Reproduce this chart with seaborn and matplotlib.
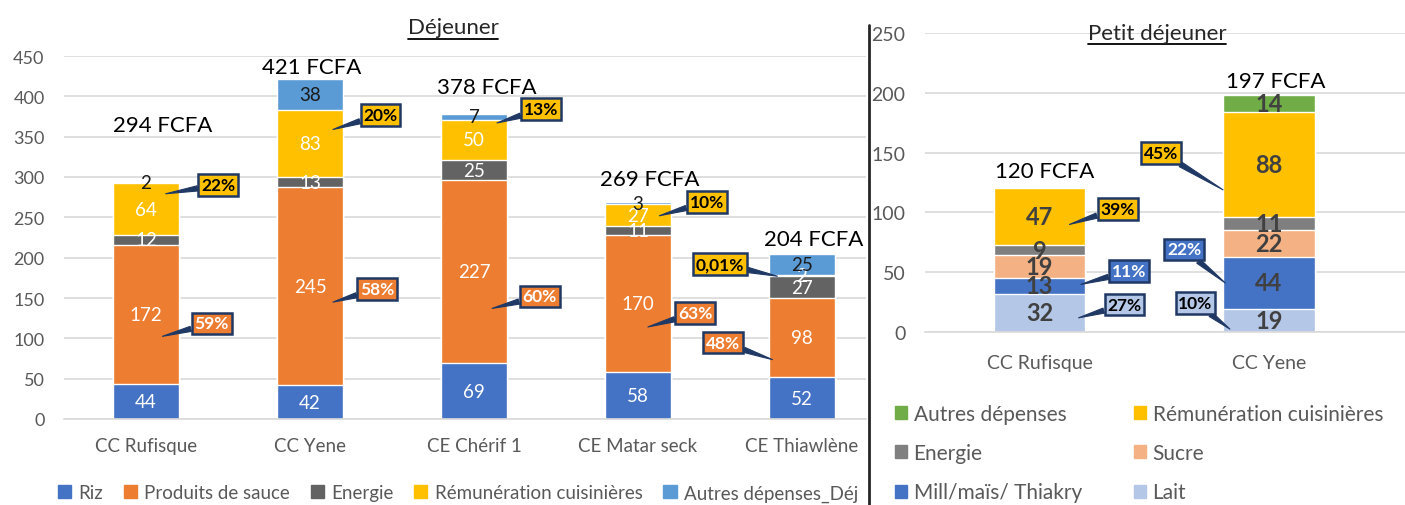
import matplotlib
matplotlib.use("Agg")
import matplotlib.pyplot as plt
import seaborn as sns
import numpy as np
import pandas as pd
from matplotlib.lines import Line2D
from matplotlib.patches import Patch

# Déjeuner
dej_sites = ["CC Rufisque", "CC Yene", "CE Chérif 1", "CE Matar seck", "CE Thiawlène"]
dej_series = ["Riz", "Produits de sauce", "Energie", "Rémunération cuisinières", "Autres dépenses_Déj"]
riz = [44, 42, 69, 58, 52]
sauce = [172, 245, 227, 170, 98]
energie_dej = [12, 13, 25, 11, 27]
remun_dej = [64, 83, 50, 27, 2]
autres_dej = [2, 38, 7, 3, 25]
dej_totaux = ["294 FCFA", "421 FCFA", "378 FCFA", "269 FCFA", "204 FCFA"]
pct_remun_dej = ["22%", "20%", "13%", "10%", "0,01%"]
pct_sauce_dej = ["59%", "58%", "60%", "63%", "48%"]

# Petit déjeuner
pdej_sites = ["CC Rufisque", "CC Yene"]
pdej_series = ["Lait", "Mill/maïs/ Thiakry", "Sucre", "Energie", "Rémunération cuisinières", "Autres dépenses"]
lait = [32, 19]
mil = [13, 44]
sucre = [19, 22]
energie_pdej = [9, 11]
remun_pdej = [47, 88]
autres_pdej = [0, 14]
pdej_totaux = ["120 FCFA", "197 FCFA"]
pct_remun_pdej = ["39%", "45%"]
pct_mil_pdej = ["11%", "22%"]
pct_lait_pdej = ["27%", "10%"]

BLEU, ORANGE, JAUNE = "#4472C4", "#ED7D31", "#FFC000"
dej_couleurs = [BLEU, ORANGE, "#636363", JAUNE, "#5B9BD5"]
pdej_couleurs = ["#B4C7E7", BLEU, "#F4B183", "#7F7F7F", JAUNE, "#70AD47"]
NAVY = "#1F3864"
GRIS = "#595959"

sns.set_style("white")
plt.rcParams["font.family"] = ["Lato", "DejaVu Sans"]

W, H = 1405, 506
fig = plt.figure(figsize=(W / 100, H / 100), dpi=100)


def px_axes(x0, x1, ytop, ybot):
    return fig.add_axes([x0 / W, (H - ybot) / H, (x1 - x0) / W, (ybot - ytop) / H])


def empiler(ax, sites, series, valeurs, couleurs):
    df = pd.DataFrame(np.array(valeurs).T, columns=series)
    df.insert(0, "site", sites)
    cum = df[series].cumsum(axis=1)
    for s, c in reversed(list(zip(series, couleurs))):
        sns.barplot(x=df["site"], y=cum[s], color=c, width=0.4, saturation=1,
                    order=sites, ax=ax, zorder=2)
    return df[series].to_numpy(float), (cum - df[series]).to_numpy(float)


def habiller(ax, ymax, pas, xlim, fs_y, fs_x, pad_x):
    ax.set_ylim(0, ymax)
    ax.set_yticks(np.arange(0, ymax + 1, pas))
    ax.set_xlim(*xlim)
    ax.set_xlabel("")
    ax.set_ylabel("")
    ax.yaxis.grid(True, color="#D9D9D9", lw=1.2, zorder=0)
    ax.set_axisbelow(True)
    sns.despine(ax=ax, left=True, top=True, right=True)
    ax.spines["bottom"].set_color("#D9D9D9")
    ax.spines["bottom"].set_linewidth(1.2)
    ax.tick_params(axis="y", length=0, pad=14, labelsize=fs_y, labelcolor=GRIS)
    ax.tick_params(axis="x", length=0, pad=pad_x, labelsize=fs_x, labelcolor=GRIS)


def bulle(ax, texte, xy, dxy, fc, tc):
    ax.annotate(texte, xy=xy, xytext=(xy[0] + dxy[0], xy[1] + dxy[1]),
                ha="center", va="center", fontsize=12.5, fontweight="bold", color=tc,
                bbox=dict(boxstyle="square,pad=0.16", fc=fc, ec=NAVY, lw=1.8),
                arrowprops=dict(arrowstyle="wedge,tail_width=0.3,shrink_factor=0.5",
                                fc=NAVY, ec=NAVY, lw=0.8, shrinkA=0, shrinkB=0),
                zorder=6)


# ---------- Déjeuner ----------
ax1 = px_axes(64, 866, 57, 420)
v1, b1 = empiler(ax1, dej_sites, dej_series, [riz, sauce, energie_dej, remun_dej, autres_dej], dej_couleurs)
habiller(ax1, 450, 50, (-0.5, 4.39), 13, 13.5, 13)

for i in range(len(dej_sites)):
    for j in range(len(dej_series)):
        col = "#1A1A1A" if j == 4 else "white"
        ax1.text(i, b1[i, j] + v1[i, j] / 2, f"{v1[i, j]:.0f}", ha="center", va="center",
                 fontsize=13.5, color=col, zorder=5)

dej_decal_total = [(0.10, 71), (0.01, 15), (0.08, 33), (0.07, 28), (0.07, 19)]
for i, t in enumerate(dej_totaux):
    dx, dy = dej_decal_total[i]
    ax1.text(i + dx, v1[i].sum() + dy, t, ha="center", va="center", fontsize=16, color="black")

# (point: dx, fraction du segment) ; (décalage de la bulle)
remun_pos = [((0.12, 0.80), (0.32, 11)), ((0.14, 0.71), (0.29, 18)), ((0.14, 0.92), (0.27, 17)),
             ((0.13, 0.48), (0.29, 17)), ((-0.15, 0.0), (-0.35, 15))]
sauce_pos = [((0.10, 0.34), (0.30, 16)), ((0.14, 0.42), (0.27, 16)), ((0.11, 0.30), (0.29, 15)),
             ((0.06, 0.33), (0.29, 17)), ((-0.18, 0.22), (-0.30, 21))]
for i in range(len(dej_sites)):
    (dx, f), d = remun_pos[i]
    bulle(ax1, pct_remun_dej[i], (i + dx, b1[i, 3] + f * v1[i, 3]), d, JAUNE, "black")
    (dx, f), d = sauce_pos[i]
    bulle(ax1, pct_sauce_dej[i], (i + dx, b1[i, 1] + f * v1[i, 1]), d, ORANGE, "white")

fig.legend(handles=[Patch(color=c, label=s) for s, c in zip(dej_series, dej_couleurs)],
           loc="center", bbox_to_anchor=(458 / W, (H - 494) / H), ncol=5, frameon=False,
           fontsize=13.5, handlelength=0.7, handleheight=0.7, handletextpad=0.4,
           columnspacing=1.1, labelcolor=GRIS)

# ---------- Petit déjeuner ----------
ax2 = px_axes(925, 1405, 34, 333)
v2, b2 = empiler(ax2, pdej_sites, pdej_series, [lait, mil, sucre, energie_pdej, remun_pdej, autres_pdej], pdej_couleurs)
habiller(ax2, 250, 50, (-0.5, 1.594), 14, 14, 16)

for i in range(len(pdej_sites)):
    for j in range(len(pdej_series)):
        if v2[i, j] > 0:
            ax2.text(i, b2[i, j] + v2[i, j] / 2, f"{v2[i, j]:.0f}", ha="center", va="center",
                     fontsize=17, fontweight="bold", color="#404040", zorder=5)

pdej_decal_total = [(0.02, 15), (0.03, 12)]
for i, t in enumerate(pdej_totaux):
    dx, dy = pdej_decal_total[i]
    ax2.text(i + dx, v2[i].sum() + dy, t, ha="center", va="center", fontsize=16, color="black")

remun_pos2 = [((0.13, 0.36), (0.21, 13)), ((-0.20, 0.26), (-0.27, 31))]
mil_pos2 = [((0.18, 0.6), (0.21, 11)), ((-0.19, 0.5), (-0.18, 28))]
lait_pos2 = [((0.17, 0.37), (0.20, 11)), ((-0.17, 0.13), (-0.15, 22))]
for i in range(len(pdej_sites)):
    (dx, f), d = remun_pos2[i]
    bulle(ax2, pct_remun_pdej[i], (i + dx, b2[i, 4] + f * v2[i, 4]), d, JAUNE, "black")
    (dx, f), d = mil_pos2[i]
    bulle(ax2, pct_mil_pdej[i], (i + dx, b2[i, 1] + f * v2[i, 1]), d, BLEU, "white")
    (dx, f), d = lait_pos2[i]
    bulle(ax2, pct_lait_pdej[i], (i + dx, b2[i, 0] + f * v2[i, 0]), d, pdej_couleurs[0], "black")

ordre = [5, 3, 1, 4, 2, 0]
fig.legend(handles=[Patch(color=pdej_couleurs[k], label=pdej_series[k]) for k in ordre],
           loc="upper left", bbox_to_anchor=(876 / W, (H - 386) / H), ncol=2, frameon=False,
           fontsize=15, handlelength=0.6, handleheight=0.6, handletextpad=0.3,
           columnspacing=2.5, labelspacing=0.93, labelcolor=GRIS)

# séparateur vertical
fig.add_artist(Line2D([869 / W, 869 / W], [0, (H - 26) / H], transform=fig.transFigure,
                      color="#262626", lw=2))

# titres soulignés
t1 = fig.text(453 / W, (H - 28) / H, "Déjeuner", ha="center", va="center", fontsize=16)
t2 = fig.text(1157 / W, (H - 34) / H, "Petit déjeuner", ha="center", va="center", fontsize=16)
fig.canvas.draw()
for t in (t1, t2):
    bb = t.get_window_extent().transformed(fig.transFigure.inverted())
    fig.add_artist(Line2D([bb.x0, bb.x1], [bb.y0 - 1.5 / H] * 2, transform=fig.transFigure,
                          color="black", lw=1.3))

fig.savefig("out.png", dpi=100)
